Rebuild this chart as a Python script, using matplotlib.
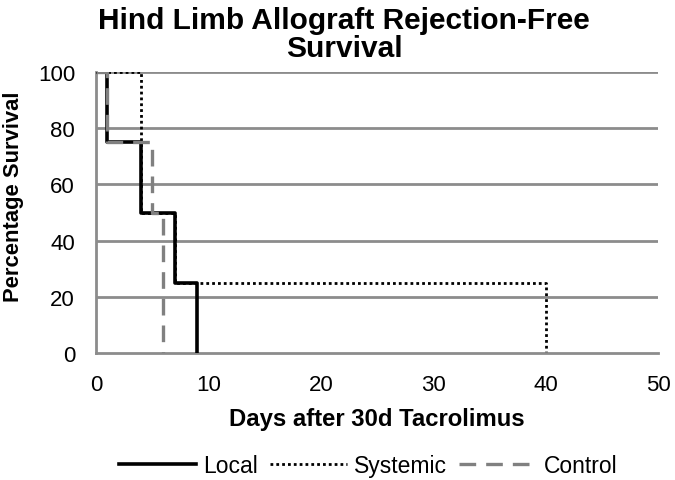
import matplotlib
matplotlib.use("Agg")
import matplotlib.pyplot as plt

plt.rcParams['font.family'] = ['Liberation Sans', 'DejaVu Sans']

# step data: survival value held from each day until the next
local_days = [0, 1, 4, 7, 9, 9]
local_surv = [100, 75, 50, 25, 0, 0]
systemic_days = [0, 4, 7, 40, 40]
systemic_surv = [100, 50, 25, 0, 0]
control_days = [0, 1, 5, 6, 6]
control_surv = [100, 75, 50, 0, 0]

fig = plt.figure(figsize=(6.75, 4.81), dpi=100)
ax = fig.add_axes([0.142, 0.264, 0.833, 0.584])

for y in [20, 40, 60, 80, 100]:
    ax.axhline(y, color='#8c8c8c', lw=2, zorder=0)

ax.step(systemic_days, systemic_surv, where='post', color='black', lw=2,
        linestyle=(0, (1, 1.1)), label='Systemic', zorder=2)
ax.step(local_days, local_surv, where='post', color='black', lw=2.6,
        label='Local', zorder=3)
ax.step(control_days, control_surv, where='post', color='#808080', lw=2.4,
        linestyle=(0, (5, 3)), label='Control', zorder=4)

ax.set_xlim(0, 50)
ax.set_ylim(0, 100)
ax.set_xticks(range(0, 51, 10))
ax.set_yticks(range(0, 101, 20))
ax.tick_params(labelsize=16, length=0, pad=15)
for s in ['top', 'right']:
    ax.spines[s].set_visible(False)
for s in ['left', 'bottom']:
    ax.spines[s].set_color('#8c8c8c')
    ax.spines[s].set_linewidth(2)

fig.text(0.51, 0.985, 'Hind Limb Allograft Rejection-Free\nSurvival', fontsize=21.5,
         fontweight='bold', ha='center', va='top', linespacing=1.0)
ax.set_xlabel('Days after 30d Tacrolimus', fontsize=17.2, fontweight='bold', labelpad=9)
ax.set_ylabel('Percentage Survival', fontsize=15.8, fontweight='bold')
ax.yaxis.set_label_coords(-0.128, 0.56)

h, l = ax.get_legend_handles_labels()
order = [1, 0, 2]
fig.legend([h[i] for i in order], [l[i] for i in order], loc='center',
           bbox_to_anchor=(0.545, 0.03), ncol=3, frameon=False, fontsize=16.5,
           handlelength=3.4, columnspacing=0.5, handletextpad=0.3)

fig.savefig('out.png', dpi=100)
